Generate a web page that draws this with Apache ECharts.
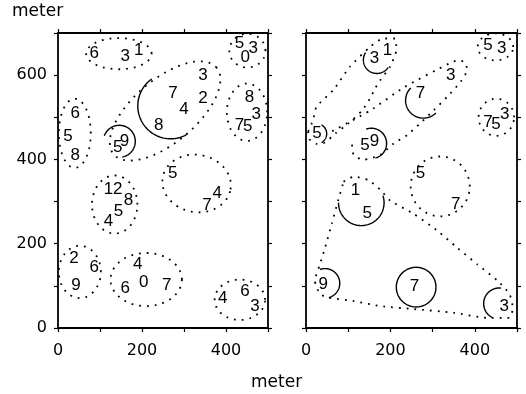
<!DOCTYPE html>
<html><head><meta charset="utf-8">
<script src="https://cdn.jsdelivr.net/npm/echarts@6/dist/echarts.min.js"></script>
<style>html,body{margin:0;padding:0;background:#fff}#c{width:526px;height:394px}</style>
</head><body><div id="c"></div>
<script>
// ---- data (meters) ----
const xRange = [0, 500];
const yRange = [0, 700];
const tickStep = 100;
const labelStep = 200;

// digit labels: [text, x, y]
const leftLabels = [
  ['6',86,651],['3',160,644],['1',192,658],
  ['5',432,675],['3',465,663],['0',446,642],
  ['3',345,599],['7',274,556],['2',345,544],['4',300,520],['8',240,480],
  ['5',142,428],['9',158,442],
  ['6',41,509],['5',24,456],['8',41,409],
  ['8',456,547],['3',472,508],['7',432,480],['5',452,478],
  ['1',120,328],['2',142,328],['8',168,304],['5',144,276],['4',120,254],
  ['5',273,366],['4',379,319],['7',355,292],
  ['2',38,166],['6',86,143],['9',43,102],
  ['4',190,152],['6',160,95],['0',204,109],['7',259,102],
  ['4',392,71],['6',445,88],['3',469,52]
];
const rightLabels = [
  ['5',431,670],['3',464,663],
  ['1',193,658],['3',162,639],
  ['7',271,556],['3',343,599],
  ['5',26,461],
  ['5',140,433],['9',162,444],
  ['7',431,487],['5',450,483],['3',471,508],
  ['5',271,366],['7',355,294],
  ['1',117,326],['5',145,273],
  ['9',41,104],['7',257,100],['3',470,52]
];

// dotted ellipses: [cx, cy, rx, ry, angleDeg]
const leftEllipses = [
  [145,651,78,37,0],[451,658,43,40,0],[255,515,160,75,40],
  [40,462,38,82,0],[450,512,48,68,0],[135,293,54,69,0],
  [330,343,82,68,-10],[52,133,50,62,0],[210,115,85,63,0],[433,67,60,48,0]
];
const rightEllipses = [
  [449,667,42,32,0],[451,500,42,44,0],[318,336,70,71,0]
];

// solid arcs: [cx, cy, r, startDeg, endDeg]
const leftArcs = [
  [268,527,78,125,300],[146,443,38,-80,160]
];
const rightArcs = [
  [168,636,32,147,326],[25,461,24,-60,60],[278,540,42,135,315],
  [155,438,36,-75,110],[131,297,54,180,378],[45,106,35,-75,110],
  [261,97,47,0,360],[458,58,37,84,244]
];

// dotted hull outlines (right panel)
const hullA = [[5,466],[17,494],[25,525],[65,565],[104,620],[152,667],[183,687],[211,687],[214,660],[199,620],[176,588],[164,569],[152,545],[132,515],[100,485],[70,462],[45,440],[25,437],[8,448],[5,466]];
const hullB = [[62,467],[152,516],[232,571],[340,628],[360,635],[376,631],[382,613],[367,585],[335,549],[303,517],[271,486],[240,458],[208,438],[176,411],[136,399],[113,411],[109,435]];
const hullC = [[89,347],[113,359],[148,351],[176,328],[200,302],[255,271],[311,231],[359,190],[406,151],[454,112],[482,81],[490,48],[482,24],[430,24],[351,36],[255,45],[176,52],[113,64],[53,72],[33,81],[21,112],[33,151],[45,190],[61,247],[76,302],[89,347]];

// ---- rendering ----
const INK = '#000';
const DOT = {stroke: INK, lineWidth: 1.8, lineDash: [1.8, 6], fill: null};
const tickFont = 'DejaVu Sans';

function ellipseItem(params, api) {
  const cx = api.value(0), cy = api.value(1), rx = api.value(2), ry = api.value(3);
  const a = api.value(4) * Math.PI / 180;
  const pts = [];
  for (let k = 0; k <= 120; k++) {
    const t = k / 120 * 2 * Math.PI;
    const ex = rx * Math.cos(t), ey = ry * Math.sin(t);
    pts.push(api.coord([cx + ex * Math.cos(a) - ey * Math.sin(a), cy + ex * Math.sin(a) + ey * Math.cos(a)]));
  }
  return {type: 'polyline', shape: {points: pts}, style: Object.assign({}, DOT)};
}
function arcItem(params, api) {
  const cx = api.value(0), cy = api.value(1), r = api.value(2);
  const a0 = api.value(3) * Math.PI / 180, a1 = api.value(4) * Math.PI / 180;
  const pts = [];
  const n = 80;
  for (let k = 0; k <= n; k++) {
    const t = a0 + (a1 - a0) * k / n;
    pts.push(api.coord([cx + r * Math.cos(t), cy + r * Math.sin(t)]));
  }
  return {type: 'polyline', shape: {points: pts}, style: {stroke: INK, lineWidth: 1.4, fill: null}};
}
function textRenderer(labels) {
  return function (params, api) {
    const p = api.coord([api.value(0), api.value(1)]);
    return {type: 'text', x: p[0], y: p[1], style: {
      text: labels[params.dataIndex][0], fill: INK,
      font: '17px "Liberation Sans", Arial, sans-serif',
      textAlign: 'center', textVerticalAlign: 'middle'}};
  };
}

function axisCommon(showLabel, pos, gridIndex, isX) {
  return {
    type: 'value', gridIndex: gridIndex, position: pos,
    min: isX ? xRange[0] : yRange[0], max: isX ? xRange[1] : yRange[1], interval: tickStep,
    axisLine: {show: true, onZero: false, lineStyle: {color: INK, width: 1.8}},
    axisTick: {show: true, inside: false, length: 4, lineStyle: {color: INK, width: 1.2}},
    axisLabel: {show: showLabel, color: INK, fontFamily: tickFont, fontSize: 16, margin: isX ? 15 : 11,
      formatter: v => (v % labelStep === 0 ? String(v) : '')},
    splitLine: {show: false}
  };
}

function panelSeries(labels, ellipses, arcs, hulls, xi, yi) {
  const s = [];
  s.push({type: 'custom', xAxisIndex: xi, yAxisIndex: yi, clip: true, renderItem: ellipseItem,
    data: ellipses, silent: true, z: 2});
  s.push({type: 'custom', xAxisIndex: xi, yAxisIndex: yi, clip: true, renderItem: arcItem,
    data: arcs, silent: true, z: 3});
  hulls.forEach(h => s.push({type: 'line', xAxisIndex: xi, yAxisIndex: yi, data: h, smooth: 0.2,
    showSymbol: false, symbol: 'none', silent: true, z: 2,
    lineStyle: {color: INK, width: 1.8, type: [1.8, 6]}}));
  s.push({type: 'custom', xAxisIndex: xi, yAxisIndex: yi, renderItem: textRenderer(labels),
    data: labels.map(l => [l[1], l[2]]), silent: true, z: 4});
  return s;
}

const chart = echarts.init(document.getElementById('c'), null, {renderer: 'canvas'});
chart.setOption({
  animation: false,
  backgroundColor: '#fff',
  grid: [
    {left: 58, top: 33, width: 210, height: 295},
    {left: 306, top: 33, width: 211, height: 295}
  ],
  xAxis: [
    axisCommon(true, 'bottom', 0, true), axisCommon(false, 'top', 0, true),
    axisCommon(true, 'bottom', 1, true), axisCommon(false, 'top', 1, true)
  ],
  yAxis: [
    axisCommon(true, 'left', 0, false), axisCommon(false, 'right', 0, false),
    axisCommon(false, 'left', 1, false), axisCommon(false, 'right', 1, false)
  ],
  graphic: [
    {type: 'text', left: 12, top: 3, style: {text: 'meter', fill: INK, font: '17px "DejaVu Sans"'}},
    {type: 'text', left: 251, top: 374, style: {text: 'meter', fill: INK, font: '17px "DejaVu Sans"'}}
  ],
  series: [].concat(
    panelSeries(leftLabels, leftEllipses, leftArcs, [], 0, 0),
    panelSeries(rightLabels, rightEllipses, rightArcs, [hullA, hullB, hullC], 2, 2)
  )
});
</script></body></html>
